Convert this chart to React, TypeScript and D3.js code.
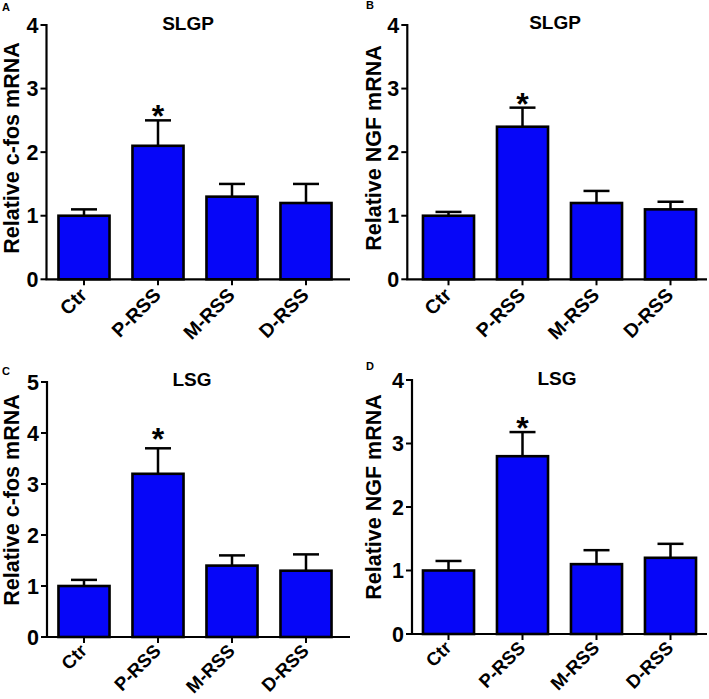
import React from 'react';
import * as d3 from 'd3';

// group names on the x axis
const categories = ['Ctr', 'P-RSS', 'M-RSS', 'D-RSS'];

// relative mRNA (mean) and upper error (SEM)
const fosSlgpMean = [1.0, 2.1, 1.3, 1.2];
const fosSlgpErr = [0.1, 0.4, 0.2, 0.3];
const ngfSlgpMean = [1.0, 2.4, 1.2, 1.1];
const ngfSlgpErr = [0.06, 0.3, 0.19, 0.12];
const fosLsgMean = [1.0, 3.2, 1.4, 1.3];
const fosLsgErr = [0.12, 0.5, 0.2, 0.32];
const ngfLsgMean = [1.0, 2.8, 1.1, 1.2];
const ngfLsgErr = [0.15, 0.38, 0.22, 0.22];

// which groups carry the asterisk
const significant = [false, true, false, false];

const ticks4 = [0, 1, 2, 3, 4];
const ticks5 = [0, 1, 2, 3, 4, 5];

const FONT = "'Liberation Sans', Arial, Helvetica, sans-serif";
const BLUE = '#0606f8';

const panels = [
  {
    letter: 'A', letterX: 2, letterY: 11,
    title: 'SLGP', titleX: 188, titleY: 30,
    ylabel: 'Relative c-fos mRNA', ylabelX: 19, ylabelY: 148,
    means: fosSlgpMean, errs: fosSlgpErr, ticks: ticks4, starGap: 12,
    axisX: 46.5, axisEnd: 350, y0: 279.3, yTop: 25, band: [47, 343],
    xFont: 19.5, xDrop: 17,
  },
  {
    letter: 'B', letterX: 366, letterY: 9,
    title: 'SLGP', titleX: 555, titleY: 29,
    ylabel: 'Relative NGF mRNA', ylabelX: 381, ylabelY: 148,
    means: ngfSlgpMean, errs: ngfSlgpErr, ticks: ticks4, starGap: 11,
    axisX: 407.3, axisEnd: 707, y0: 279.3, yTop: 25, band: [411.5, 707.5],
    xFont: 19.5, xDrop: 17,
  },
  {
    letter: 'C', letterX: 2, letterY: 375,
    title: 'LSG', titleX: 192, titleY: 386,
    ylabel: 'Relative c-fos mRNA', ylabelX: 19, ylabelY: 500,
    means: fosLsgMean, errs: fosLsgErr, ticks: ticks5, starGap: 17,
    axisX: 47, axisEnd: 350, y0: 637, yTop: 382, band: [47, 343],
    xFont: 18.5, xDrop: 15,
  },
  {
    letter: 'D', letterX: 366, letterY: 370,
    title: 'LSG', titleX: 557, titleY: 385,
    ylabel: 'Relative NGF mRNA', ylabelX: 381, ylabelY: 497,
    means: ngfLsgMean, errs: ngfLsgErr, ticks: ticks4, starGap: 11,
    axisX: 412, axisEnd: 707, y0: 634, yTop: 380, band: [411.5, 707.5],
    xFont: 18.5, xDrop: 15,
  },
];

function Panel({ p }: { p: typeof panels[number] }) {
  const yMax = p.ticks[p.ticks.length - 1];
  const y = d3.scaleLinear().domain([0, yMax]).range([p.y0, p.yTop]);
  const x = d3.scaleBand<string>()
    .domain(categories)
    .range(p.band as [number, number])
    .paddingInner(0.31)
    .paddingOuter(0.155);
  const bw = x.bandwidth();
  const capHalf = 13;
  const starSize = 32;

  return (
    <g fontFamily={FONT} fontWeight="bold" fill="#000">
      <text x={p.letterX} y={p.letterY} fontSize={11}>{p.letter}</text>
      <text x={p.titleX} y={p.titleY} fontSize={19} textAnchor="middle">{p.title}</text>
      <text
        transform={`translate(${p.ylabelX},${p.ylabelY}) rotate(-90)`}
        fontSize={21.5}
        textAnchor="middle"
      >
        {p.ylabel}
      </text>

      {/* bars with upward error bars */}
      {categories.map((c, i) => {
        const cx = (x(c) ?? 0) + bw / 2;
        const top = y(p.means[i]);
        const errTop = y(p.means[i] + p.errs[i]);
        return (
          <g key={c}>
            <line x1={cx} x2={cx} y1={top} y2={errTop} stroke="#000" strokeWidth={2.5} />
            <line x1={cx - capHalf} x2={cx + capHalf} y1={errTop} y2={errTop} stroke="#000" strokeWidth={2.5} />
            <rect
              x={x(c)}
              y={top}
              width={bw}
              height={p.y0 - top}
              fill={BLUE}
              stroke="#000"
              strokeWidth={2.6}
            />
            {significant[i] && (
              <text
                x={cx}
                y={errTop - p.starGap + 0.57 * starSize}
                fontSize={starSize}
                textAnchor="middle"
              >
                *
              </text>
            )}
          </g>
        );
      })}

      {/* y axis */}
      <line x1={p.axisX} x2={p.axisX} y1={p.y0} y2={p.yTop - 1} stroke="#000" strokeWidth={2.2} />
      {p.ticks.map((t) => (
        <g key={t}>
          <line x1={p.axisX - 6} x2={p.axisX} y1={y(t)} y2={y(t)} stroke="#000" strokeWidth={2} />
          <text x={p.axisX - 8} y={y(t)} dy="0.36em" fontSize={21.5} textAnchor="end">{t}</text>
        </g>
      ))}

      {/* x axis */}
      <line x1={p.axisX - 1} x2={p.axisEnd} y1={p.y0} y2={p.y0} stroke="#000" strokeWidth={2.2} />
      {categories.map((c) => {
        const cx = (x(c) ?? 0) + bw / 2;
        return (
          <g key={c}>
            <line x1={cx} x2={cx} y1={p.y0} y2={p.y0 + 6} stroke="#000" strokeWidth={2} />
            <text
              transform={`translate(${cx + 4},${p.y0 + p.xDrop}) rotate(-45)`}
              fontSize={p.xFont}
              textAnchor="end"
            >
              {c}
            </text>
          </g>
        );
      })}
    </g>
  );
}

export default function App() {
  return (
    <div style={{ position: 'absolute', left: 0, top: 0 }}>
      <svg width={709} height={699} style={{ display: 'block', background: '#fff' }}>
        {panels.map((p) => (
          <Panel key={p.letter} p={p} />
        ))}
      </svg>
    </div>
  );
}
